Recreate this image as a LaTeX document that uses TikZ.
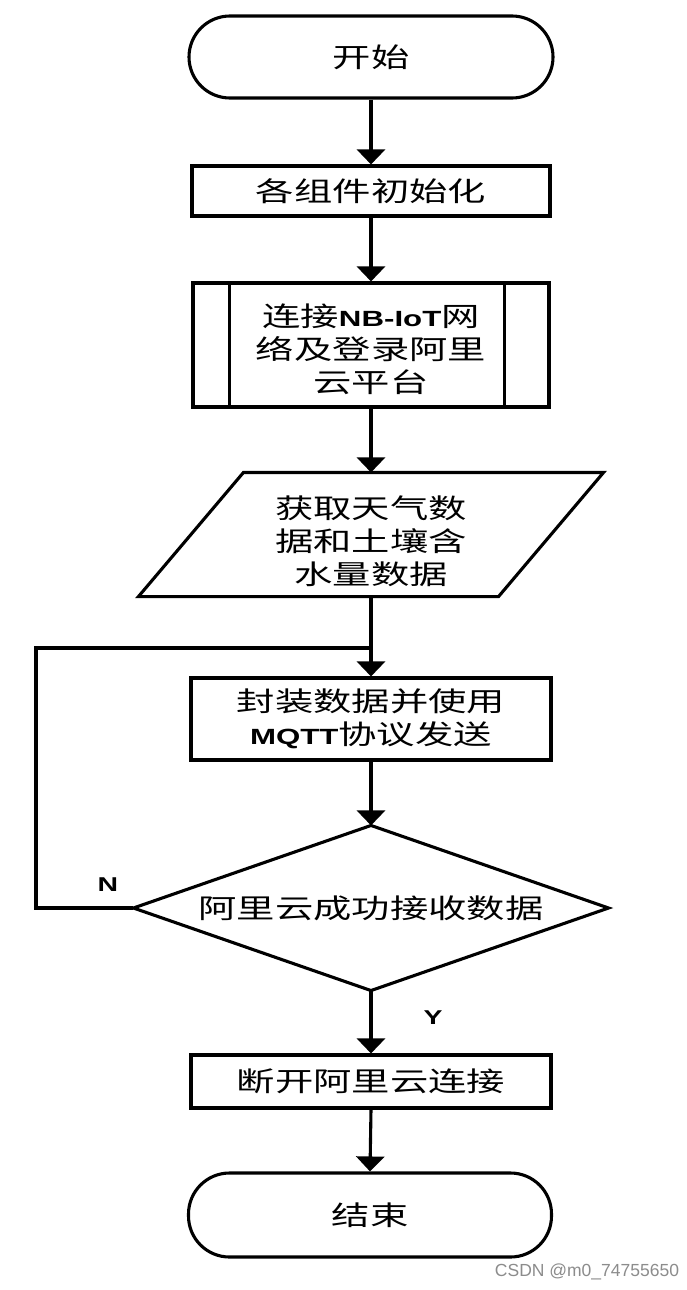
\documentclass[tikz,border=0pt]{standalone}
\usepackage{fontspec}
\usetikzlibrary{arrows.meta,calc}
\newfontfamily\cjk[FakeStretch=1.42]{Noto Sans CJK SC}
\newfontfamily\latb[FakeStretch=1.42]{Liberation Sans}
\newfontfamily\wmfont{Liberation Sans}
\newcommand\latn[1]{{\latb\bfseries\fontsize{22}{33}\selectfont #1}}
\begin{document}
\begin{tikzpicture}[x=1pt,y=-1pt,line width=3.1pt,
  box/.style={draw,line width=3.1pt,rectangle,align=center,inner sep=0pt,
    font=\cjk\fontsize{27}{33}\selectfont},
  term/.style={box,rounded corners=41pt},
  txt/.style={align=center,inner sep=0pt,font=\cjk\fontsize{27}{33}\selectfont},
  arr/.style={-{Triangle[width=28pt,length=15pt]},line width=3.1pt},
  lab/.style={font=\latb\bfseries\fontsize{20}{22}\selectfont},
  wm/.style={font=\wmfont\fontsize{17.5}{20}\selectfont,text=black!45}]
\fill[white] (0,0) rectangle (686,1290);
\useasboundingbox (0,0) rectangle (686,1290);

\node[term,minimum width=364pt,minimum height=82pt] (start) at (371,57) {开始};
\node[box,minimum width=358pt,minimum height=50pt] (init) at (371,191) {各组件初始化};
\node[box,minimum width=356pt,minimum height=124pt] (conn) at (371,345) {};
\node[txt] (conntxt) at (371,349) {连接\latn{NB-IoT}网\\络及登录阿里\\云平台};
\draw ([xshift=38pt]conn.north west) -- ([xshift=38pt]conn.south west);
\draw ([xshift=-46pt]conn.north east) -- ([xshift=-46pt]conn.south east);

\node[box,draw=none,minimum width=357pt,minimum height=121pt] (get) at (371,534.5) {};
\node[txt] (gettxt) at (371,541) {获取天气数\\据和土壤含\\水量数据};
\draw[line join=miter] ([xshift=52.5pt]get.north west) -- ([xshift=52.5pt]get.north east)
  -- ([xshift=-52.5pt]get.south east) -- ([xshift=-52.5pt]get.south west) -- cycle;

\node[box,minimum width=360pt,minimum height=82pt] (send) at (371,719) {封装数据并使用\\\latn{MQTT}协议发送};

\node[box,draw=none,minimum width=472pt,minimum height=162pt] (chk) at (371,908) {阿里云成功接收数据};
\draw[line join=miter] (chk.north) -- (chk.east) -- (chk.south) -- (chk.west) -- cycle;

\node[box,minimum width=360pt,minimum height=53pt] (disc) at (371,1081.5) {断开阿里云连接};
\node[term,minimum width=363pt,minimum height=84pt] (stop) at (370,1215) {结束};

\draw[arr] (start.south) -- (init.north);
\draw[arr] (init.south) -- (conn.north);
\draw[arr] (conn.south) -- (get.north);
\draw[arr] (get.south) -- (send.north);
\draw[arr] (send.south) -- (chk.north);
\draw[arr] (chk.south) -- (disc.north);
\draw[arr] (disc.south) -- (stop.north);

\coordinate (lc) at (36,648);
\coordinate (jn) at (371,648);
\draw[line join=miter] (chk.west) -| (lc) -- (jn);

\node[lab] (nlab) at (108,885) {N};
\node[lab] (ylab) at (433,1018) {Y};
\node[wm] (mark) at (587,1272) {CSDN @m0\_74755650};
\end{tikzpicture}
\end{document}
